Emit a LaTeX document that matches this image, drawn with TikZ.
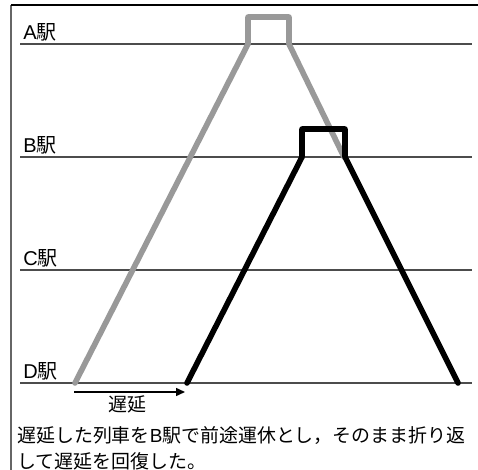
\documentclass[tikz,border=0pt]{standalone}
\usepackage{fontspec}
\setmainfont{Noto Sans CJK JP}
\newfontfamily\latf{Liberation Sans}
\usetikzlibrary{arrows.meta}
\begin{document}
\begin{tikzpicture}[x=0.75pt,y=-0.75pt,
  station/.style={draw=black!70, line width=0.8pt},
  lbl/.style={anchor=south west, inner sep=0pt, font=\fontsize{15}{17}\selectfont},
  trainA/.style={draw=black!40, line width=4.2pt, line cap=round, line join=round},
  trainB/.style={draw=black, line width=4.2pt, line cap=round, line join=round},
  txt/.style={inner sep=0pt, font=\fontsize{14.2}{18.75}\selectfont},
]
\useasboundingbox (0,0) rectangle (478,470);
\fill[white] (0,0) rectangle (478,470);
% frame
\coordinate (fb) at (11,470);
\coordinate (fc) at (11,5);
\coordinate (fr) at (478,5);
\draw[black!60, line width=1pt] (fb) -- (fc);
\draw[black, line width=1.2pt] (fc) -- (fr);
% stations
\coordinate (Aw) at (20,44);  \coordinate (Ae) at (472,44);
\coordinate (Bw) at (20,157); \coordinate (Be) at (472,157);
\coordinate (Cw) at (20,270); \coordinate (Ce) at (472,270);
\coordinate (Dw) at (20,383); \coordinate (De) at (472,383);
\draw[station] (Aw) -- (Ae);
\draw[station] (Bw) -- (Be);
\draw[station] (Cw) -- (Ce);
\draw[station] (Dw) -- (De);
\node[lbl] (la) at (23,41) {{\latf A}駅};
\node[lbl] (lb) at (23,154) {{\latf B}駅};
\node[lbl] (lc) at (23,267) {{\latf C}駅};
\node[lbl] (ld) at (23,380) {{\latf D}駅};
% gray train
\coordinate (g0) at (75,383);
\coordinate (g1) at (248,44);
\coordinate (g2) at (248,17);
\coordinate (g3) at (289,17);
\coordinate (g4) at (289,44);
\coordinate (g5) at (344,157);
\draw[trainA] (g0) -- (g1) -- (g2) -- (g3) -- (g4) -- (g5);
% black train
\coordinate (k0) at (187,383);
\coordinate (k1) at (302,157);
\coordinate (k2) at (302,129);
\coordinate (k3) at (345,129);
\coordinate (k4) at (345,157);
\coordinate (k5) at (458,383);
\draw[trainB] (k0) -- (k1) -- (k2) -- (k3) -- (k4) -- (k5);
% delay arrow
\coordinate (da) at (74,392);
\coordinate (db) at (185,392);
\draw[black, line width=1.1pt, -{Triangle[length=6.75pt,width=6pt]}] (da) -- (db);
\node[txt] (dl) at (127,404) {遅延};
% caption
\node[txt, anchor=west] (c1) at (17,436) {遅延した列車を{\latf B}駅で前途運休とし，そのまま折り返};
\node[txt, anchor=west] (c2) at (17,461) {して遅延を回復した。};
\end{tikzpicture}
\end{document}
